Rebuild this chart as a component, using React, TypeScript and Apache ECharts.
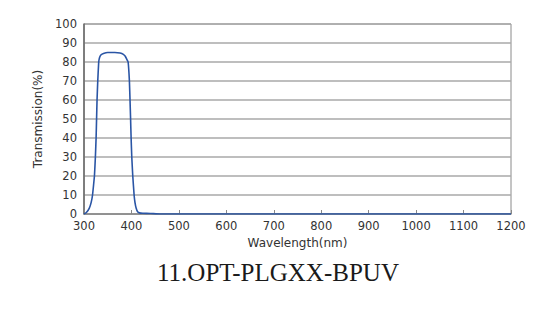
import React, { useEffect, useRef } from "react";
import * as echarts from "echarts";

const wavelengths = [300, 305, 311, 315, 318, 322, 324, 325.5, 326.5, 327.5, 329, 331, 333, 336, 341, 350, 365, 376, 383, 387, 390, 393, 395.7, 397, 398.2, 399.3, 400.7, 402.8, 405.6, 407.5, 410, 413, 417, 424, 440, 460, 1200];
const transmission = [0, 0.8, 3, 6, 10, 20, 30, 40, 50, 60, 70, 80, 82.5, 83.8, 84.5, 85, 85, 84.7, 84, 83, 81.5, 80, 70, 60, 50, 40, 30, 20, 10, 6, 3, 1.2, 0.6, 0.4, 0.3, 0, 0];
const xTicks = [300, 400, 500, 600, 700, 800, 900, 1000, 1100, 1200];
const yTicks = [0, 10, 20, 30, 40, 50, 60, 70, 80, 90, 100];
const titleText = "11.OPT-PLGXX-BPUV";

export default function App() {
  const ref = useRef<HTMLDivElement>(null);
  useEffect(() => {
    if (!ref.current) return;
    const chart = echarts.init(ref.current, null, { renderer: "svg" });
    const font = "'DejaVu Sans', sans-serif";
    chart.setOption({
      animation: false,
      backgroundColor: "#ffffff",
      title: {
        text: titleText,
        left: 152,
        top: 255,
        textStyle: { fontFamily: "'Liberation Serif', serif", fontSize: 25, fontWeight: "normal", color: "#1a1a1a" },
      },
      grid: { left: 84, right: 39, top: 24, bottom: 102, show: true, borderColor: "#8a8a8a", borderWidth: 1 },
      xAxis: {
        type: "value",
        min: xTicks[0],
        max: xTicks[xTicks.length - 1],
        interval: xTicks[1] - xTicks[0],
        name: "Wavelength(nm)",
        nameLocation: "middle",
        nameGap: 22,
        nameTextStyle: { fontFamily: font, fontSize: 12, color: "#333" },
        axisLine: { show: true, lineStyle: { color: "#888", width: 1.5 } },
        axisTick: { show: true, inside: true, length: 4, lineStyle: { color: "#888" } },
        axisLabel: { fontFamily: font, fontSize: 11.5, color: "#333", margin: 6, formatter: (v: number) => String(v) },
        splitLine: { show: false },
      },
      yAxis: {
        type: "value",
        min: yTicks[0],
        max: yTicks[yTicks.length - 1],
        interval: yTicks[1] - yTicks[0],
        name: "Transmission(%)",
        nameLocation: "middle",
        nameGap: 38,
        nameTextStyle: { fontFamily: font, fontSize: 12, color: "#333" },
        axisLine: { show: true, lineStyle: { color: "#666", width: 1.5 } },
        axisTick: { show: false },
        axisLabel: { fontFamily: font, fontSize: 11.5, color: "#333", margin: 7 },
        splitLine: { show: true, lineStyle: { color: "#a8a8a8", width: 1.5 } },
      },
      series: [
        {
          type: "line",
          data: wavelengths.map((w, i) => [w, transmission[i]]),
          showSymbol: false,
          smooth: 0.1,
          lineStyle: { color: "#2a55a5", width: 1.6 },
          z: 3,
        },
      ],
    });
    return () => chart.dispose();
  }, []);
  return <div ref={ref} style={{ position: "fixed", left: 0, top: 0, width: 550, height: 316 }} />;
}
